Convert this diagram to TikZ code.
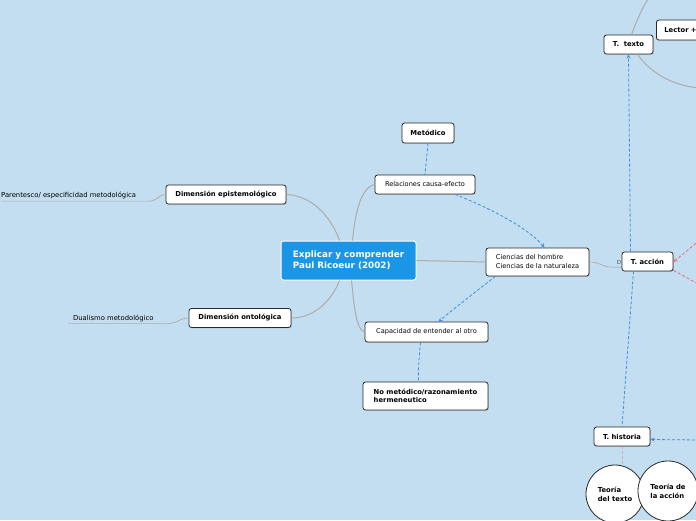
\documentclass[tikz,border=0pt]{standalone}
\usepackage{fontspec}
\setmainfont{DejaVu Sans}
\usetikzlibrary{shapes,arrows,positioning,calc,shadows}

\definecolor{bgblue}{RGB}{194,222,240}
\definecolor{mainblue}{RGB}{27,150,230}
\definecolor{linkblue}{RGB}{62,142,230}
\definecolor{linkred}{RGB}{240,105,125}
\definecolor{branchgray}{RGB}{172,172,172}
\definecolor{boxline}{RGB}{40,40,40}

\begin{document}
\begin{tikzpicture}[
    x=1pt, y=-1pt,
    topic/.style={rectangle, draw=boxline, fill=white, line width=0.8pt, rounded corners=2.5pt, minimum height=19pt, inner xsep=6pt, inner ysep=2pt, font=\fontsize{6.8}{8.5}\selectfont\bfseries, drop shadow={shadow xshift=0.8pt, shadow yshift=-0.8pt, opacity=0.3}},
    subtopic/.style={topic, font=\fontsize{6.6}{9}\selectfont},
    central/.style={rectangle, draw=white, fill=mainblue, line width=1pt, rounded corners=2.5pt, text=white, align=left, font=\fontsize{8.8}{11}\selectfont\bfseries},
    leaf/.style={inner xsep=0pt, inner ysep=2pt, font=\fontsize{6.8}{8}\selectfont},
    theory/.style={circle, draw=boxline, fill=white, line width=0.8pt, align=left, font=\fontsize{6.8}{9}\selectfont\bfseries},
    branch/.style={draw=branchgray, line width=1pt},
    leafline/.style={draw=branchgray, line width=0.7pt},
    link/.style={draw=linkblue, line width=0.8pt, dash pattern=on 3pt off 2pt},
    arrow/.style={link, ->, >=stealth},
    redlink/.style={draw=linkred, line width=0.8pt, dash pattern=on 3pt off 2pt},
    redarrow/.style={redlink, ->, >=stealth}
]

% Canvas
\useasboundingbox (0,0) rectangle (696,520);
\clip (0,0) rectangle (696,520);
\fill[bgblue] (0,0) rectangle (696,520);

% Main topic
\node[central, minimum width=135pt, minimum height=39pt] (explicar) at (348.5,260.5) {Explicar y comprender\\Paul Ricoeur (2002)};

% Left side
\node[topic, minimum width=120pt] (epis) at (226,194.5) {Dimensión epistemológico};
\node[topic, minimum width=102pt] (onto) at (240,318) {Dimensión ontológica};
\node[leaf, anchor=west] (parentesco) at (1,195.5) {Parentesco/ especificidad metodológica};
\node[leaf, anchor=west] (dualismo) at (73,318) {Dualismo metodológico};

% Middle
\node[topic, minimum width=52pt, minimum height=20pt] (metodico) at (428,133) {Metódico};
\node[subtopic, minimum width=100pt] (relaciones) at (425,184.5) {Relaciones causa-efecto};
\node[subtopic, minimum width=103pt, minimum height=28pt, align=left] (ciencias) at (537.5,262) {Ciencias del hombre\\Ciencias de la naturaleza};
\node[subtopic, minimum width=123pt, minimum height=20pt] (capacidad) at (426.5,332) {Capacidad de entender al otro};
\node[topic, minimum width=125pt, minimum height=28pt, align=left, font=\fontsize{6.8}{8}\selectfont\bfseries] (nometodico) at (425.5,396) {No metódico/razonamiento\\hermeneutico};

% Right side
\node[leaf, font=\fontsize{5.5}{6}\selectfont, text=boxline!80] (dlabel) at (619,262) {D};
\draw[leafline] (ciencias.east) .. controls (602,262) and (600,267) .. ($(dlabel.south west)+(-4,1)$) -- ($(dlabel.south east)+(6,1)$);

\node[topic, minimum width=49pt] (ttexto) at (628.5,44.5) {T.~ texto};
\node[topic, anchor=west, text width=44pt, align=left, inner xsep=8pt, minimum height=20pt] (lector) at (656,30) {Lector +};
\node[topic, minimum width=51pt] (taccion) at (647.5,261.5) {T. acción};
\node[topic, minimum width=56pt] (thistoria) at (622,436.5) {T. historia};
\node[theory, minimum size=58pt] (tdt) at (615,494) {Teoría\\del texto};
\node[theory, minimum size=60pt] (tda) at (668,491) {Teoría de\\la acción};

% Free ends
\coordinate (upEnd) at (650,-4);
\coordinate (downEnd) at (700,88);
\coordinate (redIn) at (700,240);
\coordinate (redOut) at (700,285);
\coordinate (histIn) at (700,440);

% Branches
\draw[branch] ($(explicar.north)+(-9,0)$) .. controls (333,222) and (316,196) .. (epis.east);
\draw[branch] ($(explicar.south)+(-9,0)$) .. controls (333,298) and (316,318) .. (onto.east);
\draw[branch] ($(explicar.north)+(4,0)$) .. controls (355,215) and (360,188) .. (relaciones.west);
\draw[branch] ($(explicar.south)+(3,0)$) .. controls (354,305) and (356,330) .. (capacidad.west);
\draw[branch] (explicar.east) -- (ciencias.west);
\draw[leafline] (parentesco.south west) -- ($(parentesco.south east)+(10,0)$) .. controls (158,202) and (157,195) .. (epis.west);
\draw[leafline] ($(dualismo.south west)+(-5,0)$) -- ($(dualismo.south east)+(8,0)$) .. controls (178,325) and (178,318) .. (onto.west);
\draw[branch] ($(ttexto.north)+(3,0)$) .. controls (637,20) and (642,8) .. (upEnd);
\draw[branch] ($(ttexto.south)+(9,0)$) .. controls (650,72) and (672,86) .. (downEnd);

% Relations
\draw[link] (metodico.south) -- (relaciones.north);
\draw[arrow] ($(relaciones.south)+(30,0)$) .. controls (495,210) and (530,230) .. ($(ciencias.north)+(7,0)$);
\draw[arrow] ($(ciencias.south)+(-42,0)$) .. controls (475,292) and (450,312) .. ($(capacidad.north)+(12,0)$);
\draw[link] ($(capacidad.south)+(-6,0)$) .. controls (419,360) and (418,370) .. ($(nometodico.north)+(-7,0)$);
\draw[arrow] ($(taccion.north)+(-17,0)$) -- (ttexto.south);
\draw[link] ($(taccion.south)+(-14,0)$) -- (thistoria.north);
\draw[arrow] (histIn) -- ($(thistoria.east)+(0,3)$);
\draw[redarrow] (redIn) -- ($(taccion.east)+(0,0.5)$);
\draw[redlink] ($(taccion.south east)+(0,-1)$) -- (redOut);
\draw[redlink, opacity=0.45] (thistoria.south) -- (thistoria.south |- tdt.north);

\end{tikzpicture}
\end{document}
